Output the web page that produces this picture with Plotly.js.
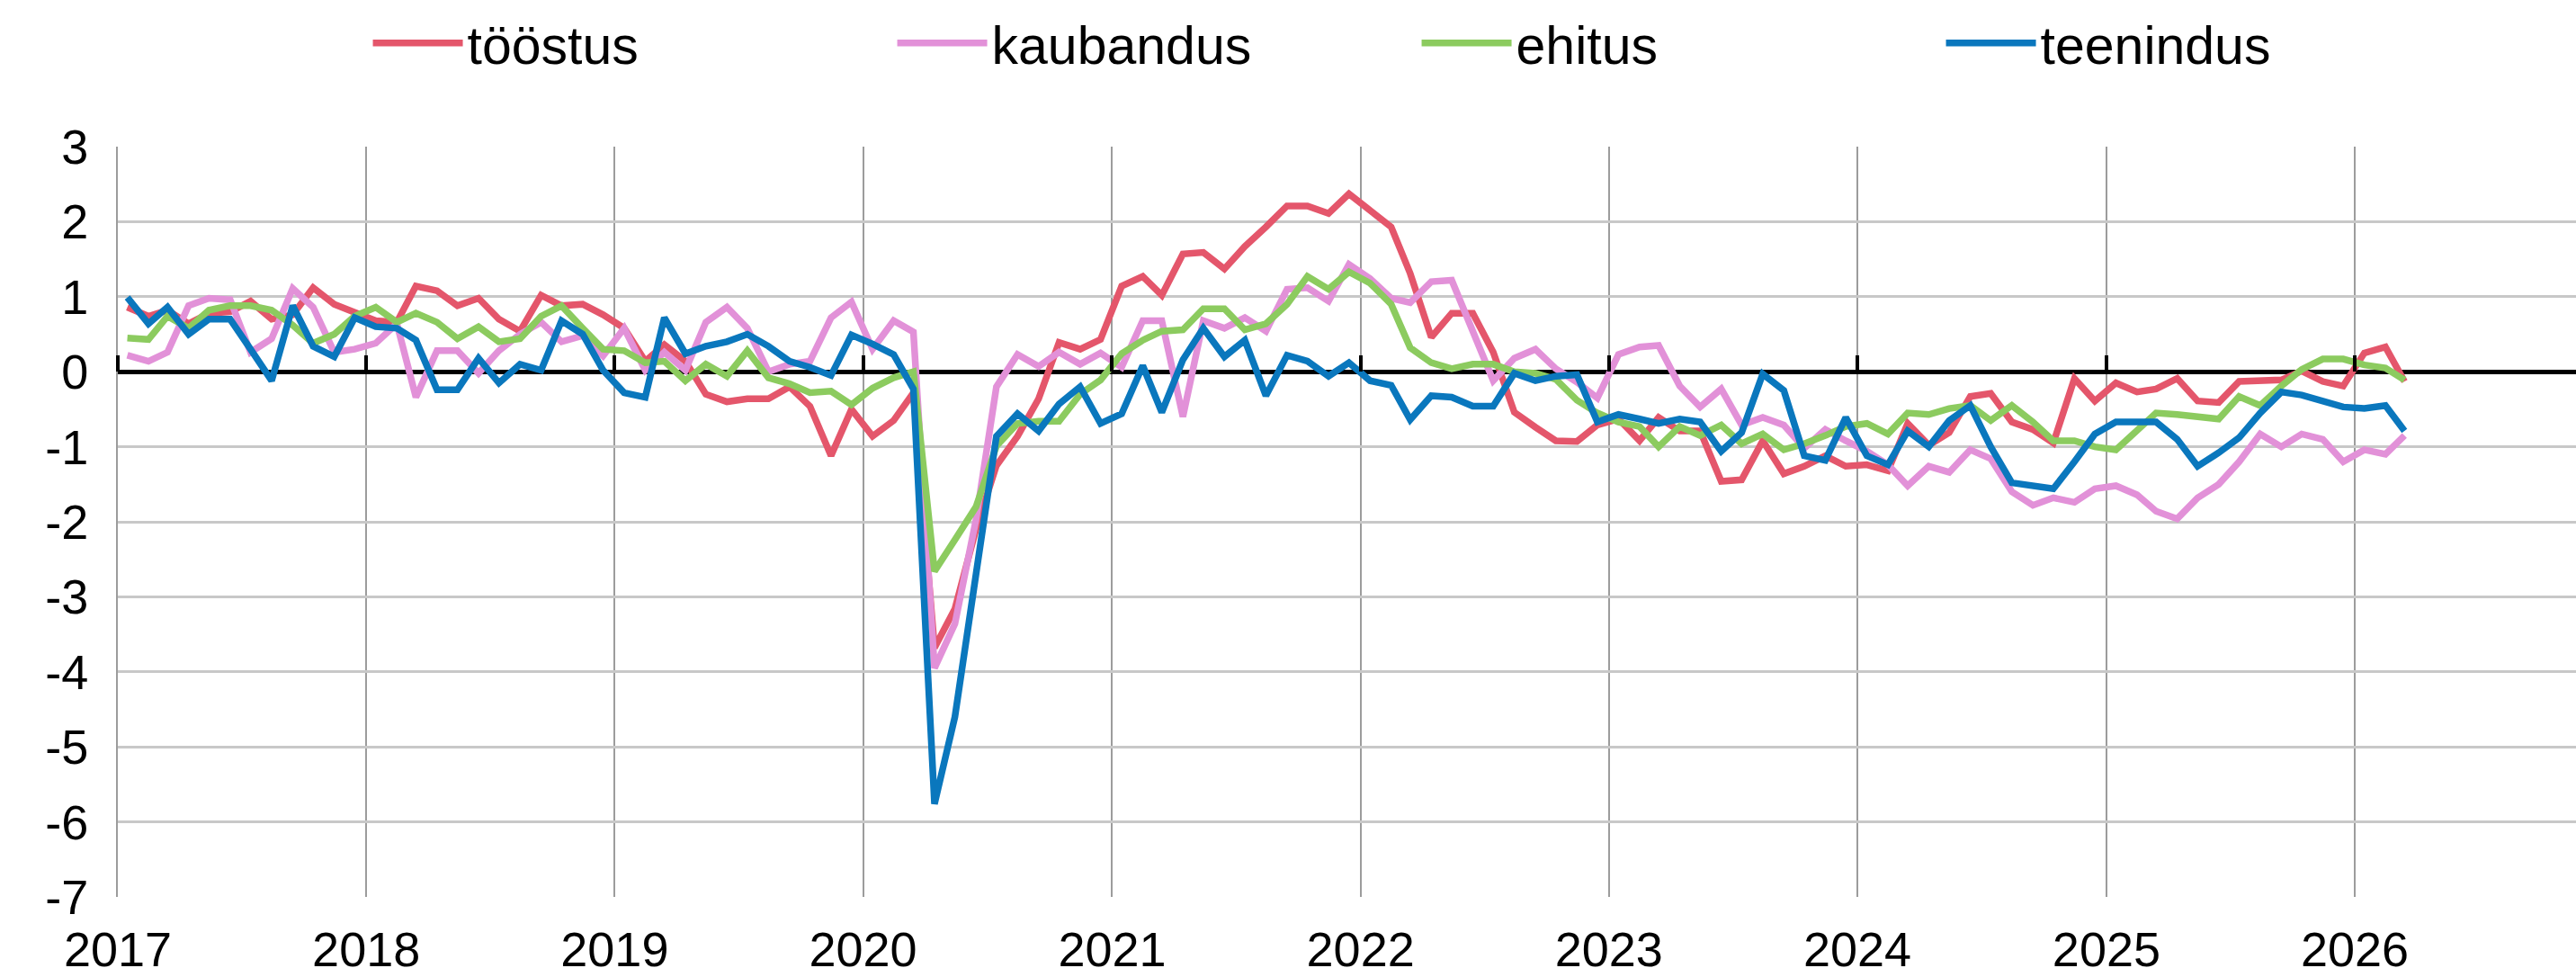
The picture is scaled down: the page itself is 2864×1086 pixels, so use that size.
<!DOCTYPE html>
<html>
<head>
<meta charset="utf-8">
<script src="https://cdn.plot.ly/plotly-3.0.1.min.js"></script>
<style>
  html, body { margin: 0; padding: 0; background: #ffffff; }
  #chart { width: 2864px; height: 1086px; }
</style>
</head>
<body>
<div id="chart"></div>
<script>
// ---- Data (monthly, Jan 2017 – Mar 2026) ----
var seriesNames = ['tööstus', 'kaubandus', 'ehitus', 'teenindus'];

var toostus = [
  0.86, 0.74, 0.82, 0.64, 0.78, 0.80, 0.94, 0.70, 0.76, 1.12, 0.90, 0.80,
  0.68, 0.66, 1.14, 1.08, 0.88, 0.98, 0.70, 0.54, 1.02, 0.88, 0.90, 0.76,
  0.58, 0.14, 0.36, 0.14, -0.30, -0.40, -0.36, -0.36, -0.20, -0.46, -1.12, -0.50,
  -0.86, -0.65, -0.28, -3.68, -3.16, -2.10, -1.25, -0.86, -0.36, 0.39, 0.30, 0.43,
  1.14, 1.27, 1.02, 1.57, 1.59, 1.37, 1.67, 1.93, 2.21, 2.21, 2.11, 2.37,
  2.15, 1.93, 1.31, 0.46, 0.78, 0.78, 0.26, -0.54, -0.74, -0.92, -0.93, -0.71,
  -0.63, -0.92, -0.61, -0.79, -0.79, -1.46, -1.44, -0.92, -1.36, -1.26, -1.12, -1.26,
  -1.24, -1.32, -0.69, -0.98, -0.81, -0.33, -0.29, -0.67, -0.77, -0.95, -0.09, -0.39,
  -0.15, -0.27, -0.23, -0.09, -0.39, -0.41, -0.13, -0.11, -0.11, 0.01, -0.13, -0.19,
  0.25, 0.33, -0.13
];

var kaubandus = [
  0.22, 0.14, 0.26, 0.88, 0.98, 0.96, 0.26, 0.44, 1.11, 0.86, 0.26, 0.30,
  0.38, 0.64, -0.34, 0.28, 0.28, -0.02, 0.28, 0.50, 0.66, 0.40, 0.48, 0.21,
  0.58, 0.02, 0.26, 0.02, 0.66, 0.86, 0.58, 0.00, 0.10, 0.14, 0.72, 0.93,
  0.30, 0.68, 0.53, -3.95, -3.36, -1.97, -0.20, 0.23, 0.07, 0.26, 0.10, 0.25,
  0.06, 0.68, 0.68, -0.60, 0.68, 0.58, 0.72, 0.54, 1.10, 1.12, 0.94, 1.43,
  1.24, 0.98, 0.92, 1.20, 1.22, 0.54, -0.12, 0.18, 0.30, 0.04, -0.14, -0.35,
  0.23, 0.33, 0.35, -0.19, -0.47, -0.23, -0.71, -0.61, -0.71, -1.02, -0.77, -0.92,
  -1.06, -1.24, -1.52, -1.26, -1.34, -1.04, -1.16, -1.60, -1.78, -1.68, -1.74, -1.56,
  -1.52, -1.64, -1.86, -1.96, -1.68, -1.50, -1.20, -0.83, -1.00, -0.83, -0.90, -1.20,
  -1.04, -1.10, -0.85
];

var ehitus = [
  0.45, 0.43, 0.74, 0.58, 0.82, 0.88, 0.88, 0.82, 0.62, 0.38, 0.50, 0.74,
  0.86, 0.66, 0.78, 0.66, 0.44, 0.60, 0.40, 0.44, 0.74, 0.88, 0.58, 0.30,
  0.28, 0.12, 0.14, -0.12, 0.10, -0.06, 0.28, -0.08, -0.16, -0.28, -0.26, -0.44,
  -0.22, -0.08, 0.00, -2.66, -2.24, -1.80, -0.99, -0.69, -0.66, -0.66, -0.30, -0.11,
  0.24, 0.42, 0.54, 0.56, 0.84, 0.84, 0.56, 0.64, 0.90, 1.27, 1.10, 1.33,
  1.18, 0.90, 0.32, 0.12, 0.04, 0.10, 0.10, 0.00, -0.02, -0.10, -0.38, -0.55,
  -0.67, -0.73, -1.00, -0.73, -0.85, -0.71, -0.96, -0.83, -1.04, -0.96, -0.85, -0.73,
  -0.69, -0.83, -0.55, -0.57, -0.49, -0.45, -0.65, -0.45, -0.67, -0.92, -0.92, -1.00,
  -1.04, -0.79, -0.55, -0.57, -0.59, -0.63, -0.33, -0.45, -0.19, 0.03, 0.17, 0.17,
  0.09, 0.05, -0.11
];

var teenindus = [
  0.99, 0.64, 0.86, 0.50, 0.70, 0.70, 0.30, -0.12, 0.88, 0.34, 0.20, 0.72,
  0.60, 0.58, 0.42, -0.24, -0.24, 0.18, -0.15, 0.10, 0.02, 0.68, 0.50, 0.02,
  -0.28, -0.34, 0.72, 0.24, 0.34, 0.40, 0.50, 0.34, 0.14, 0.06, -0.05, 0.49,
  0.37, 0.23, -0.23, -5.76, -4.60, -2.70, -0.86, -0.56, -0.79, -0.43, -0.20, -0.69,
  -0.56, 0.08, -0.54, 0.16, 0.58, 0.20, 0.42, -0.32, 0.22, 0.14, -0.06, 0.12,
  -0.12, -0.18, -0.64, -0.32, -0.34, -0.46, -0.46, -0.02, -0.12, -0.06, -0.04, -0.67,
  -0.57, -0.63, -0.69, -0.63, -0.67, -1.06, -0.81, -0.03, -0.25, -1.12, -1.18, -0.61,
  -1.12, -1.24, -0.79, -1.00, -0.65, -0.45, -1.00, -1.48, -1.52, -1.56, -1.20, -0.83,
  -0.67, -0.67, -0.67, -0.90, -1.26, -1.08, -0.88, -0.55, -0.27, -0.31, -0.39, -0.47,
  -0.49, -0.45, -0.79
];

var yTickValues = [3, 2, 1, 0, -1, -2, -3, -4, -5, -6, -7];
var yTickLabels = ['3', '2', '1', '0', '-1', '-2', '-3', '-4', '-5', '-6', '-7'];

// Month categories (mid-month dates, Jan 2017 .. Mar 2026)
var months = [];
for (var yr = 2017; yr <= 2026; yr++) {
  for (var m = 1; m <= 12; m++) {
    if (months.length >= toostus.length) break;
    months.push(yr + '-' + (m < 10 ? '0' + m : m) + '-15');
  }
}

var colors = ['#E4566B', '#E291D8', '#8CCB5F', '#0A77BD'];
var values = [toostus, kaubandus, ehitus, teenindus];

var FONT = 'Liberation Sans, Arial, sans-serif';

var traces = values.map(function (v, i) {
  return {
    type: 'scatter',
    mode: 'lines',
    name: seriesNames[i],
    x: months,
    y: v,
    line: { color: colors[i], width: 7.5 },
    hoverinfo: 'x+y+name'
  };
});

// empty helper trace so the zero-line tick axis (xaxis2) is registered
traces.push({
  type: 'scatter',
  mode: 'lines',
  x: [],
  y: [],
  xaxis: 'x2',
  yaxis: 'y',
  showlegend: false,
  hoverinfo: 'skip'
});

var layout = {
  width: 2864,
  height: 1086,
  paper_bgcolor: '#ffffff',
  plot_bgcolor: '#ffffff',
  margin: { l: 131, r: 0, t: 163, b: 89, pad: 0 },
  font: { family: FONT, size: 54, color: '#000000' },
  showlegend: true,
  legend: {
    orientation: 'h',
    xref: 'container',
    yref: 'container',
    x: 0.143,
    xanchor: 'left',
    y: 0.956,
    yanchor: 'middle',
    itemwidth: 100,
    entrywidth: 468,
    entrywidthmode: 'pixels',
    font: { family: FONT, size: 59, color: '#000000' },
    bgcolor: 'rgba(0,0,0,0)',
    itemclick: false,
    itemdoubleclick: false
  },
  xaxis: {
    type: 'date',
    range: ['2017-01-01', '2026-11-22'],
    tick0: '2017-01-01',
    dtick: 'M12',
    tickformat: '%Y',
    ticks: '',
    showgrid: true,
    gridcolor: '#9c9c9c',
    gridwidth: 2,
    showline: false,
    zeroline: false,
    ticklabelstandoff: 22,
    tickfont: { family: FONT, size: 54, color: '#000000' },
    fixedrange: true
  },
  xaxis2: {
    type: 'date',
    matches: 'x',
    overlaying: 'x',
    anchor: 'free',
    position: 0.7,
    side: 'top',
    tick0: '2017-01-01',
    dtick: 'M12',
    ticks: 'outside',
    ticklen: 18,
    tickwidth: 4,
    tickcolor: '#000000',
    showticklabels: false,
    showgrid: false,
    showline: false,
    zeroline: false,
    fixedrange: true
  },
  yaxis: {
    range: [-7, 3],
    tickvals: yTickValues,
    ticktext: yTickLabels,
    ticks: '',
    showgrid: true,
    gridcolor: '#c8c8c8',
    gridwidth: 3,
    zeroline: true,
    zerolinecolor: '#000000',
    zerolinewidth: 4.5,
    showline: true,
    linecolor: '#9c9c9c',
    linewidth: 2,
    ticklabelstandoff: 20,
    tickfont: { family: FONT, size: 54, color: '#000000' },
    fixedrange: true
  }
};

Plotly.newPlot('chart', traces, layout, { displayModeBar: false, responsive: false });
</script>
</body>
</html>
